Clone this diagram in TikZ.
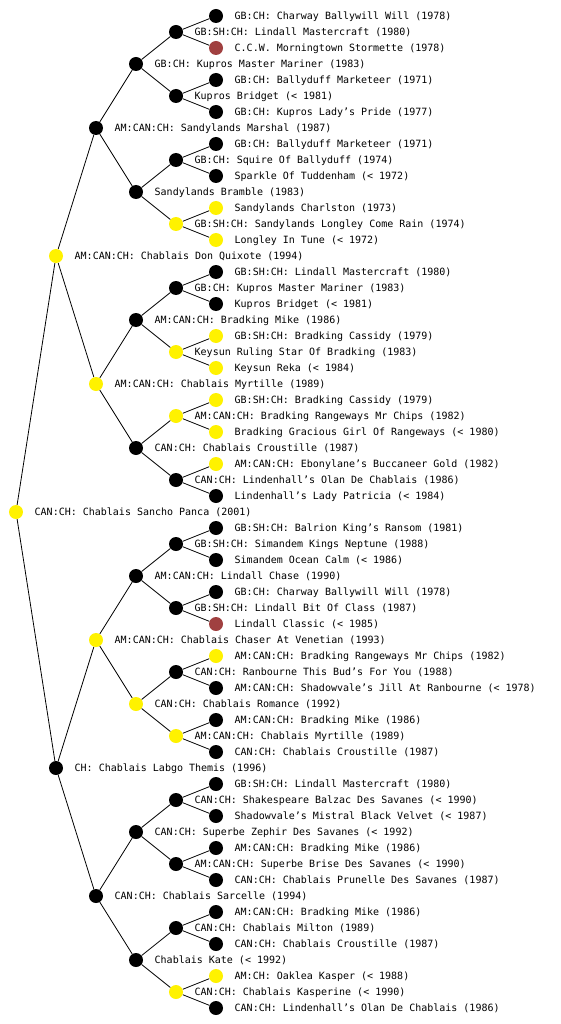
\documentclass[tikz,border=0pt]{standalone}
\usepackage{fontspec}
\setmonofont{DejaVu Sans Mono}
\usetikzlibrary{backgrounds}
\definecolor{dotred}{RGB}{160,64,64}
\newcommand{\pedi}[5]{%
  \node[#2] (#1) at (#3,#4) {};
  \node[lbl] (#1l) at (#3+18.5,#4+3.6) {#5};
}
\begin{document}
\begin{tikzpicture}[x=1pt,y=-1pt,
  dot/.style={circle,inner sep=0pt,minimum size=14pt,fill=black},
  yel/.style={dot,fill=yellow},
  rdot/.style={dot,fill=dotred},
  lbl/.style={anchor=base west,inner sep=0pt,font=\ttfamily\fontsize{10}{12}\selectfont},
  edge/.style={draw=black,line width=0.8pt}]
\useasboundingbox (0,0) rectangle (560,1024);
% generation 0 and 1
\pedi{r}{yel}{16}{512}{CAN:CH: Chablais Sancho Panca (2001)}
\pedi{a0}{yel}{56}{256}{AM:CAN:CH: Chablais Don Quixote (1994)}
\pedi{a1}{dot}{56}{768}{CH: Chablais Labgo Themis (1996)}
% generation 2
\pedi{b0}{dot}{96}{128}{AM:CAN:CH: Sandylands Marshal (1987)}
\pedi{b1}{yel}{96}{384}{AM:CAN:CH: Chablais Myrtille (1989)}
\pedi{b2}{yel}{96}{640}{AM:CAN:CH: Chablais Chaser At Venetian (1993)}
\pedi{b3}{dot}{96}{896}{CAN:CH: Chablais Sarcelle (1994)}
% generation 3
\pedi{c0}{dot}{136}{64}{GB:CH: Kupros Master Mariner (1983)}
\pedi{c1}{dot}{136}{192}{Sandylands Bramble (1983)}
\pedi{c2}{dot}{136}{320}{AM:CAN:CH: Bradking Mike (1986)}
\pedi{c3}{dot}{136}{448}{CAN:CH: Chablais Croustille (1987)}
\pedi{c4}{dot}{136}{576}{AM:CAN:CH: Lindall Chase (1990)}
\pedi{c5}{yel}{136}{704}{CAN:CH: Chablais Romance (1992)}
\pedi{c6}{dot}{136}{832}{CAN:CH: Superbe Zephir Des Savanes (< 1992)}
\pedi{c7}{dot}{136}{960}{Chablais Kate (< 1992)}
% generation 4
\pedi{d0}{dot}{176}{32}{GB:SH:CH: Lindall Mastercraft (1980)}
\pedi{d1}{dot}{176}{96}{Kupros Bridget (< 1981)}
\pedi{d2}{dot}{176}{160}{GB:CH: Squire Of Ballyduff (1974)}
\pedi{d3}{yel}{176}{224}{GB:SH:CH: Sandylands Longley Come Rain (1974)}
\pedi{d4}{dot}{176}{288}{GB:CH: Kupros Master Mariner (1983)}
\pedi{d5}{yel}{176}{352}{Keysun Ruling Star Of Bradking (1983)}
\pedi{d6}{yel}{176}{416}{AM:CAN:CH: Bradking Rangeways Mr Chips (1982)}
\pedi{d7}{dot}{176}{480}{CAN:CH: Lindenhall’s Olan De Chablais (1986)}
\pedi{d8}{dot}{176}{544}{GB:SH:CH: Simandem Kings Neptune (1988)}
\pedi{d9}{dot}{176}{608}{GB:SH:CH: Lindall Bit Of Class (1987)}
\pedi{d10}{dot}{176}{672}{CAN:CH: Ranbourne This Bud’s For You (1988)}
\pedi{d11}{yel}{176}{736}{AM:CAN:CH: Chablais Myrtille (1989)}
\pedi{d12}{dot}{176}{800}{CAN:CH: Shakespeare Balzac Des Savanes (< 1990)}
\pedi{d13}{dot}{176}{864}{AM:CAN:CH: Superbe Brise Des Savanes (< 1990)}
\pedi{d14}{dot}{176}{928}{CAN:CH: Chablais Milton (1989)}
\pedi{d15}{yel}{176}{992}{CAN:CH: Chablais Kasperine (< 1990)}
% generation 5
\pedi{e0}{dot}{216}{16}{GB:CH: Charway Ballywill Will (1978)}
\pedi{e1}{rdot}{216}{48}{C.C.W. Morningtown Stormette (1978)}
\pedi{e2}{dot}{216}{80}{GB:CH: Ballyduff Marketeer (1971)}
\pedi{e3}{dot}{216}{112}{GB:CH: Kupros Lady’s Pride (1977)}
\pedi{e4}{dot}{216}{144}{GB:CH: Ballyduff Marketeer (1971)}
\pedi{e5}{dot}{216}{176}{Sparkle Of Tuddenham (< 1972)}
\pedi{e6}{yel}{216}{208}{Sandylands Charlston (1973)}
\pedi{e7}{yel}{216}{240}{Longley In Tune (< 1972)}
\pedi{e8}{dot}{216}{272}{GB:SH:CH: Lindall Mastercraft (1980)}
\pedi{e9}{dot}{216}{304}{Kupros Bridget (< 1981)}
\pedi{e10}{yel}{216}{336}{GB:SH:CH: Bradking Cassidy (1979)}
\pedi{e11}{yel}{216}{368}{Keysun Reka (< 1984)}
\pedi{e12}{yel}{216}{400}{GB:SH:CH: Bradking Cassidy (1979)}
\pedi{e13}{yel}{216}{432}{Bradking Gracious Girl Of Rangeways (< 1980)}
\pedi{e14}{yel}{216}{464}{AM:CAN:CH: Ebonylane’s Buccaneer Gold (1982)}
\pedi{e15}{dot}{216}{496}{Lindenhall’s Lady Patricia (< 1984)}
\pedi{e16}{dot}{216}{528}{GB:SH:CH: Balrion King’s Ransom (1981)}
\pedi{e17}{dot}{216}{560}{Simandem Ocean Calm (< 1986)}
\pedi{e18}{dot}{216}{592}{GB:CH: Charway Ballywill Will (1978)}
\pedi{e19}{rdot}{216}{624}{Lindall Classic (< 1985)}
\pedi{e20}{yel}{216}{656}{AM:CAN:CH: Bradking Rangeways Mr Chips (1982)}
\pedi{e21}{dot}{216}{688}{AM:CAN:CH: Shadowvale’s Jill At Ranbourne (< 1978)}
\pedi{e22}{dot}{216}{720}{AM:CAN:CH: Bradking Mike (1986)}
\pedi{e23}{dot}{216}{752}{CAN:CH: Chablais Croustille (1987)}
\pedi{e24}{dot}{216}{784}{GB:SH:CH: Lindall Mastercraft (1980)}
\pedi{e25}{dot}{216}{816}{Shadowvale’s Mistral Black Velvet (< 1987)}
\pedi{e26}{dot}{216}{848}{AM:CAN:CH: Bradking Mike (1986)}
\pedi{e27}{dot}{216}{880}{CAN:CH: Chablais Prunelle Des Savanes (1987)}
\pedi{e28}{dot}{216}{912}{AM:CAN:CH: Bradking Mike (1986)}
\pedi{e29}{dot}{216}{944}{CAN:CH: Chablais Croustille (1987)}
\pedi{e30}{yel}{216}{976}{AM:CH: Oaklea Kasper (< 1988)}
\pedi{e31}{dot}{216}{1008}{CAN:CH: Lindenhall’s Olan De Chablais (1986)}
% connectors
\begin{pgfonlayer}{background}
\foreach \i in {0,1} {\draw[edge] (r) -- (a\i);}
\foreach \i in {0,...,3} {\pgfmathtruncatemacro\p{\i/2}\draw[edge] (a\p) -- (b\i);}
\foreach \i in {0,...,7} {\pgfmathtruncatemacro\p{\i/2}\draw[edge] (b\p) -- (c\i);}
\foreach \i in {0,...,15} {\pgfmathtruncatemacro\p{\i/2}\draw[edge] (c\p) -- (d\i);}
\foreach \i in {0,...,31} {\pgfmathtruncatemacro\p{\i/2}\draw[edge] (d\p) -- (e\i);}
\end{pgfonlayer}
\end{tikzpicture}
\end{document}
